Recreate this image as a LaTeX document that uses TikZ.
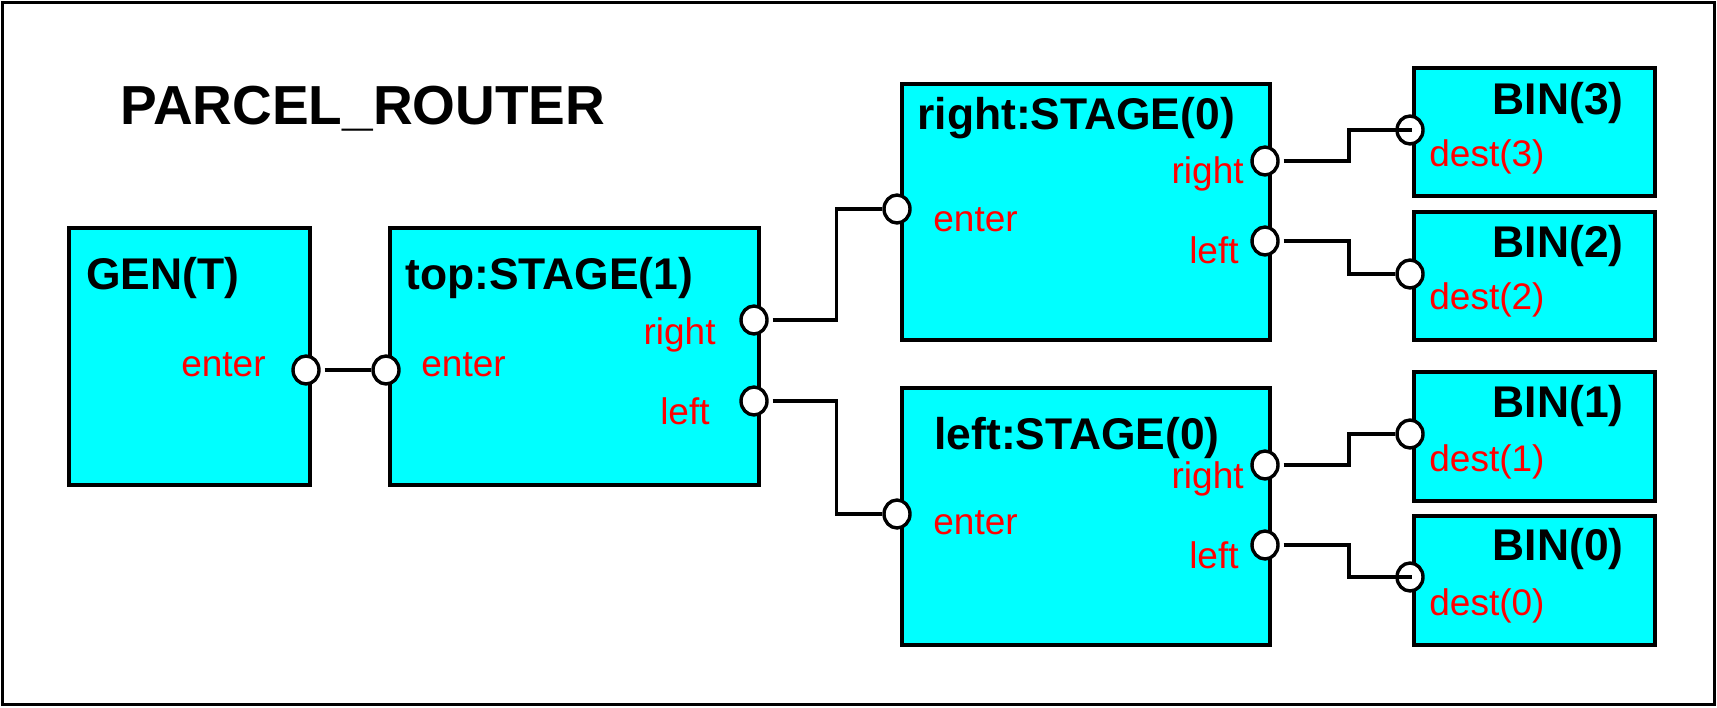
\documentclass[tikz,border=0pt]{standalone}
\usepackage{fontspec}
\setmainfont{Liberation Sans}
\usetikzlibrary{shapes.geometric}
\definecolor{cy}{RGB}{0,255,255}
\definecolor{rd}{RGB}{255,0,0}
\begin{document}
\begin{tikzpicture}[x=0.5pt,y=-0.5pt,
  box/.style={draw, line width=1.8pt, fill=cy, rectangle, anchor=north west, inner sep=0pt},
  port/.style={ellipse, draw, line width=1.7pt, fill=white, minimum width=13pt, minimum height=14pt, inner sep=0pt},
  wire/.style={line width=1.7pt},
  ttl/.style={font=\bfseries\fontsize{22.2pt}{26pt}\selectfont, inner sep=0pt},
  lbl/.style={text=rd, font=\fontsize{18.5pt}{22pt}\selectfont, inner sep=0pt},
  frame/.style={draw, line width=1.6pt}]
\useasboundingbox (0,0) rectangle (1717,707);
\draw[frame] (2.5,2.5) rectangle (1714.5,704.5);
\node[font=\bfseries\fontsize{27.5pt}{32pt}\selectfont, inner sep=0pt, anchor=base west] (title) at (120,124) {PARCEL\_ROUTER};

% boxes
\node[box, minimum width=120.5pt, minimum height=128.5pt] (GEN) at (67,226) {};
\node[box, minimum width=184.5pt, minimum height=128.5pt] (TOP) at (388,226) {};
\node[box, minimum width=184pt, minimum height=128pt] (RS) at (900,82) {};
\node[box, minimum width=184pt, minimum height=128.5pt] (LS) at (900,386) {};
\node[box, minimum width=120.5pt, minimum height=64pt] (B3) at (1412,66) {};
\node[box, minimum width=120.5pt, minimum height=64pt] (B2) at (1412,210) {};
\node[box, minimum width=120.5pt, minimum height=64.5pt] (B1) at (1412,370) {};
\node[box, minimum width=120.5pt, minimum height=64.5pt] (B0) at (1412,514) {};

% titles
\node[ttl, anchor=base west] (tGEN) at (86,289) {GEN(T)};
\node[ttl, anchor=base west] (tTOP) at (405,289) {top:STAGE(1)};
\node[ttl, anchor=base west] (tRS) at (917,129) {right:STAGE(0)};
\node[ttl, anchor=base west] (tLS) at (934,449) {left:STAGE(0)};
\node[ttl, anchor=base east] (tB3) at (1624,114) {BIN(3)};
\node[ttl, anchor=base east] (tB2) at (1624,257) {BIN(2)};
\node[ttl, anchor=base east] (tB1) at (1624,417) {BIN(1)};
\node[ttl, anchor=base east] (tB0) at (1624,560) {BIN(0)};

% labels
\node[lbl, anchor=base east] (lGEN) at (266,376) {enter};
\node[lbl, anchor=base west] (lTOPe) at (421,376) {enter};
\node[lbl, anchor=base east] (lTOPr) at (716,344) {right};
\node[lbl, anchor=base east] (lTOPl) at (710,424) {left};
\node[lbl, anchor=base west] (lRSe) at (933,231) {enter};
\node[lbl, anchor=base east] (lRSr) at (1244,183) {right};
\node[lbl, anchor=base east] (lRSl) at (1239,263) {left};
\node[lbl, anchor=base west] (lLSe) at (933,534) {enter};
\node[lbl, anchor=base east] (lLSr) at (1244,488) {right};
\node[lbl, anchor=base east] (lLSl) at (1239,568) {left};
\node[lbl, anchor=base west] (lB3) at (1429,166) {dest(3)};
\node[lbl, anchor=base west] (lB2) at (1429,309) {dest(2)};
\node[lbl, anchor=base west] (lB1) at (1429,471) {dest(1)};
\node[lbl, anchor=base west] (lB0) at (1429,615) {dest(0)};

% ports
\node[port] (pGEN) at (306,370) {};
\node[port] (pTOPe) at (386,370) {};
\node[port] (pTOPr) at (754,320) {};
\node[port] (pTOPl) at (754,401) {};
\node[port] (pRSe) at (897,209) {};
\node[port] (pRSr) at (1265,161) {};
\node[port] (pRSl) at (1265,241) {};
\node[port] (pLSe) at (897,514) {};
\node[port] (pLSr) at (1265,465) {};
\node[port] (pLSl) at (1265,545) {};
\node[port] (pB3) at (1410,130) {};
\node[port] (pB2) at (1410,274) {};
\node[port] (pB1) at (1410,434) {};
\node[port] (pB0) at (1410,577) {};

% wires
\coordinate (m1) at (836.5,0);
\coordinate (m2) at (1349,0);
\draw[wire, shorten <=2pt] (pGEN.east) -- (pTOPe.west);
\draw[wire, shorten <=2pt] (pTOPr.east) -- (pTOPr.east -| m1) |- (pRSe.west);
\draw[wire, shorten <=2pt] (pTOPl.east) -- (pTOPl.east -| m1) |- (pLSe.west);
\draw[wire, shorten <=2pt] (pRSr.east) -- (pRSr.east -| m2) |- (B3.west |- pB3);
\draw[wire, shorten <=2pt] (pRSl.east) -- (pRSl.east -| m2) |- (pB2.west);
\draw[wire, shorten <=2pt] (pLSr.east) -- (pLSr.east -| m2) |- (pB1.west);
\draw[wire, shorten <=2pt] (pLSl.east) -- (pLSl.east -| m2) |- (B0.west |- pB0);
\end{tikzpicture}
\end{document}
